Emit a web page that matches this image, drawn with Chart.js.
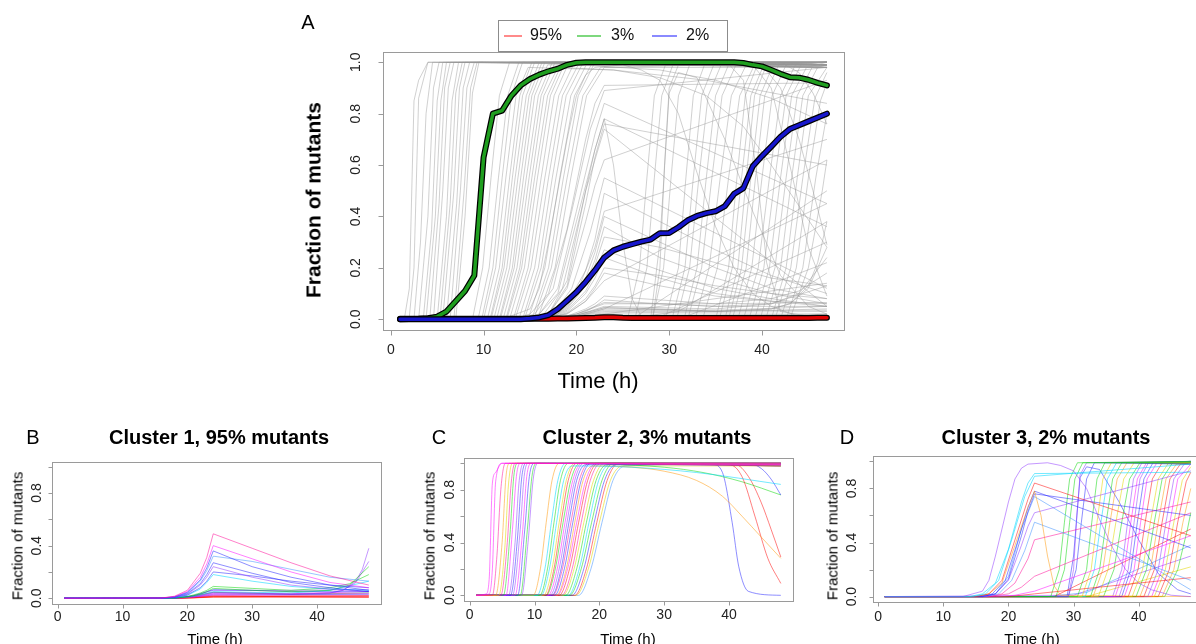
<!DOCTYPE html>
<html lang="en">
<head>
    <meta charset="UTF-8">
    <title>Fraction of mutants over time</title>
    <script src="https://cdn.jsdelivr.net/npm/chart.js@4.4.1/dist/chart.umd.min.js"></script>
    <style>
        html, body {
            margin: 0;
            padding: 0;
            width: 1196px;
            height: 644px;
            overflow: hidden;
            background: #fff;
            font-family: 'Liberation Sans', Arial, sans-serif;
        }
        canvas {
            position: absolute;
            left: 0;
            top: 0;
        }
        .t {
            position: absolute;
            transform: translate(-50%, -50%);
            line-height: 1;
            white-space: nowrap;
            color: #000;
            z-index: 5;
        }
        .v {
            transform: translate(-50%, -50%) rotate(-90deg);
        }
        .b { font-weight: bold; }
        #legendA {
            position: absolute;
            left: 498px;
            top: 20px;
            width: 228px;
            height: 30px;
            border: 1px solid #8c8c8c;
            background: #fff;
            z-index: 4;
        }
        .key {
            position: absolute;
            top: 35px;
            height: 1.5px;
            z-index: 5;
        }
        .keytext {
            position: absolute;
            top: 35px;
            transform: translateY(-50%);
            font-size: 16px;
            line-height: 1;
            color: #111;
            z-index: 5;
        }
    </style>
</head>
<body>
    <canvas id="chartA" width="1230" height="644" style="width:1230px;height:644px"></canvas>
    <canvas id="chartB" width="1230" height="644" style="width:1230px;height:644px"></canvas>
    <canvas id="chartC" width="1230" height="644" style="width:1230px;height:644px"></canvas>
    <canvas id="chartD" width="1230" height="644" style="width:1230px;height:644px"></canvas>

    <!-- panel A texts -->
    <div class="t" style="left:308px;top:22px;font-size:20px">A</div>
    <div id="legendA"></div>
    <div class="key" style="left:504px;width:18px;background:rgba(255,60,60,0.6)"></div>
    <div class="keytext" style="left:530px">95%</div>
    <div class="key" style="left:577px;width:24px;background:rgba(40,190,40,0.6)"></div>
    <div class="keytext" style="left:611px">3%</div>
    <div class="key" style="left:652px;width:25px;background:rgba(60,60,255,0.6)"></div>
    <div class="keytext" style="left:686px">2%</div>
    <div class="t v b" style="left:313px;top:200px;font-size:21px">Fraction of mutants</div>
    <div class="t" style="left:598px;top:381px;font-size:22px">Time (h)</div>

    <!-- panel B texts -->
    <div class="t" style="left:33px;top:437px;font-size:20px">B</div>
    <div class="t b" style="left:219px;top:437px;font-size:20px">Cluster 1, 95% mutants</div>
    <div class="t v" style="left:17px;top:536px;font-size:15px">Fraction of mutants</div>
    <div class="t" style="left:215px;top:638px;font-size:15px">Time (h)</div>

    <!-- panel C texts -->
    <div class="t" style="left:439px;top:437px;font-size:20px">C</div>
    <div class="t b" style="left:647px;top:437px;font-size:20px">Cluster 2, 3% mutants</div>
    <div class="t v" style="left:429px;top:536px;font-size:15px">Fraction of mutants</div>
    <div class="t" style="left:628px;top:638px;font-size:15px">Time (h)</div>

    <!-- panel D texts -->
    <div class="t" style="left:847px;top:437px;font-size:20px">D</div>
    <div class="t b" style="left:1046px;top:437px;font-size:20px">Cluster 3, 2% mutants</div>
    <div class="t v" style="left:832px;top:536px;font-size:15px">Fraction of mutants</div>
    <div class="t" style="left:1032px;top:638px;font-size:15px">Time (h)</div>

    <script>
        // ---- data ----
        const xTickValues = [0, 10, 20, 30, 40];
        const yTickValues = [0, 0.2, 0.4, 0.6, 0.8, 1];
        const ySparseLabels = [0, 0.4, 0.8];

        // panel A: cluster means, one value per hour
        const meanHours = [1,2,3,4,5,6,7,8,9,10,11,12,13,14,15,16,17,18,19,20,21,22,23,24,25,26,27,28,29,30,31,32,33,34,35,36,37,38,39,40,41,42,43,44,45,46,47];
        const mean95 = [0.002,0.002,0.002,0.002,0.002,0.002,0.002,0.002,0.002,0.002,0.002,0.002,0.002,0.002,0.002,0.002,0.002,0.003,0.003,0.004,0.005,0.006,0.008,0.008,0.006,
                        0.005,0.005,0.005,0.005,0.005,0.005,0.005,0.005,0.005,0.005,0.005,0.005,0.005,0.005,0.005,0.005,0.005,0.005,0.005,0.005,0.006,0.006];
        const mean3 = [0,0.001,0.002,0.004,0.01,0.03,0.07,0.11,0.17,0.63,0.8,0.812,0.87,0.91,0.935,0.952,0.965,0.975,0.99,0.998,1,
                       1,1,1,1,1,1,1,1,1,1,1,1,1,1,1,1,
                       0.997,0.99,0.984,0.97,0.955,0.942,0.94,0.932,0.92,0.91];
        const mean2 = [0,0,0,0,0,0,0,0,0,0,0,0,0,0,0.003,0.007,0.016,0.04,0.072,0.105,0.145,0.19,0.24,0.268,0.282,0.292,0.302,0.31,
                       0.335,0.336,0.358,0.385,0.402,0.413,0.42,0.44,0.488,0.51,0.595,0.635,0.672,0.71,0.74,0.755,0.77,0.785,0.8];

        // single runs, as [hour, fraction, hour, fraction, ...]
        const clusterOne = [
            [1,0, 16,0.002, 18,0.015, 20,0.06, 22,0.19, 23,0.31, 24,0.49, 30,0.38, 36,0.27, 42,0.17, 48,0.1],
            [1,0, 16,0.002, 18,0.012, 20,0.05, 22,0.16, 23,0.26, 24,0.4, 30,0.3, 36,0.2, 42,0.12, 48,0.08],
            [1,0, 16,0.002, 18,0.01, 20,0.045, 22,0.14, 23,0.23, 24,0.36, 30,0.24, 36,0.16, 42,0.1, 48,0.06],
            [1,0, 16,0.002, 18,0.01, 20,0.04, 22,0.13, 23,0.21, 24,0.32, 30,0.28, 36,0.22, 42,0.16, 48,0.13],
            [1,0, 16,0.001, 18,0.008, 20,0.035, 22,0.11, 23,0.18, 24,0.27, 30,0.19, 36,0.12, 42,0.08, 48,0.05],
            [1,0, 16,0.001, 18,0.007, 20,0.03, 22,0.1, 23,0.16, 24,0.24, 30,0.16, 36,0.1, 42,0.07, 48,0.05],
            [1,0, 16,0.001, 18,0.006, 20,0.025, 22,0.08, 23,0.13, 24,0.2, 30,0.17, 36,0.13, 42,0.1, 48,0.08],
            [1,0, 16,0.001, 18,0.005, 20,0.022, 22,0.07, 23,0.12, 24,0.18, 30,0.13, 36,0.09, 42,0.07, 48,0.06],
            [1,0, 18,0.002, 20,0.012, 22,0.04, 23,0.06, 24,0.09, 30,0.075, 36,0.06, 42,0.08, 45,0.11, 48,0.18],
            [1,0, 18,0.002, 20,0.01, 22,0.03, 23,0.05, 24,0.075, 30,0.06, 36,0.05, 42,0.06, 45,0.1, 48,0.24],
            [1,0, 18,0.001, 21,0.02, 24,0.065, 30,0.06, 36,0.05, 42,0.05, 48,0.05],
            [1,0, 18,0.001, 21,0.015, 24,0.045, 30,0.04, 36,0.03, 42,0.04, 44,0.06, 46,0.13, 47,0.22, 48,0.38],
            [1,0, 18,0.001, 21,0.01, 24,0.035, 36,0.03, 42,0.04, 44,0.06, 46,0.12, 48,0.28],
            [1,0, 18,0.001, 21,0.015, 24,0.05, 36,0.04, 42,0.06, 48,0.13],
            [1,0, 18,0.001, 21,0.02, 24,0.06, 36,0.06, 48,0.065],
            [1,0, 18,0, 21,0.01, 24,0.03, 48,0.035],
            [1,0, 18,0, 21,0.005, 24,0.015, 48,0.01],
            [1,0, 18,0, 21,0.006, 24,0.02, 48,0.02],
            [1,0, 18,0, 21,0.003, 24,0.008, 48,0.006],
            [1,0, 18,0, 21,0.008, 24,0.025, 48,0.03],
            [1,0, 18,0.001, 21,0.015, 24,0.045, 36,0.03, 48,0.04],
            [1,0, 18,0, 21,0.004, 24,0.012, 48,0.015],
            [1,0, 18,0.001, 21,0.012, 24,0.04, 36,0.035, 48,0.05],
            [1,0, 18,0, 21,0.003, 24,0.01, 48,0.02]
        ];
        const clusterOneColours = 'pmblbvbcggbvvcvmrprbgrmo';

        const clusterTwo = [
            [1,0, 2.5,0.01, 3,0.12, 3.5,0.85, 4,0.93, 5,1, 48,1],
            [1,0, 3,0.01, 3.5,0.2, 4,0.86, 5,1, 48,0.99],
            [1,0, 3.5,0, 4.2,0.3, 4.8,0.8, 5.5,1, 48,1],
            [1,0, 4,0, 5,0.4, 5.6,0.9, 6.2,1, 48,0.99],
            [1,0, 4.5,0, 5.4,0.35, 6,0.85, 6.6,1, 48,1],
            [1,0, 4.8,0, 5.8,0.4, 6.4,0.85, 7,1, 48,0.98],
            [1,0, 5.2,0, 6.2,0.45, 6.8,0.9, 7.4,1, 48,1],
            [1,0, 5.6,0, 6.6,0.5, 7.2,0.9, 7.8,1, 48,0.99],
            [1,0, 6,0, 7,0.4, 7.6,0.85, 8.3,1, 48,1],
            [1,0, 6.3,0, 7.4,0.45, 8,0.88, 8.7,1, 48,1],
            [1,0, 6.6,0, 7.8,0.5, 8.4,0.9, 9,1, 48,0.99],
            [1,0, 7,0, 8.1,0.45, 8.8,0.9, 9.5,1, 48,1],
            [1,0, 7.4,0, 8.5,0.5, 9.2,0.9, 10,1, 48,0.98],
            [1,0, 7.8,0, 8.9,0.5, 9.6,0.9, 10.3,1, 48,1],
            [1,0, 8,0, 9,0.4, 9.8,0.88, 10.5,1, 48,0.99],
            [1,0, 9.8,0, 10.9,0.2, 11.8,0.55, 12.7,0.87, 13.8,1, 48,1],
            [1,0, 10.4,0, 11.6,0.2, 12.6,0.55, 13.6,0.87, 14.8,1, 48,0.99],
            [1,0, 10.8,0, 12,0.2, 13,0.55, 14,0.87, 15.2,1, 48,1],
            [1,0, 11,0, 12.3,0.2, 13.4,0.55, 14.5,0.87, 15.8,0.98, 25,0.97, 35,0.93, 48,0.84],
            [1,0, 11.4,0, 12.7,0.2, 13.8,0.55, 14.9,0.87, 16.2,1, 48,0.98],
            [1,0, 11.7,0, 13,0.2, 14.1,0.55, 15.2,0.87, 16.5,1, 48,1],
            [1,0, 11.8,0, 13.2,0.2, 14.4,0.55, 15.6,0.87, 17,1, 48,1],
            [1,0, 12.1,0, 13.5,0.2, 14.7,0.55, 15.9,0.87, 17.3,1, 48,0.99],
            [1,0, 12.4,0, 13.8,0.2, 15,0.55, 16.2,0.87, 17.6,1, 48,1],
            [1,0, 12.7,0, 14.1,0.2, 15.3,0.55, 16.5,0.87, 17.9,0.99, 48,0.99],
            [1,0, 12.8,0, 14.3,0.2, 15.6,0.55, 16.9,0.87, 18.4,1, 48,1],
            [1,0, 13.1,0, 14.6,0.2, 15.9,0.55, 17.2,0.87, 18.7,1, 43,1, 45,0.96, 46.5,0.88, 48,0.76],
            [1,0, 13.4,0, 14.9,0.2, 16.2,0.55, 17.5,0.87, 19,0.98, 25,0.97, 30,0.94, 35,0.87, 39,0.75, 42,0.6, 45,0.44, 48,0.28],
            [1,0, 13.5,0, 15.1,0.2, 16.5,0.55, 17.9,0.87, 19.5,1, 48,1],
            [1,0, 13.8,0, 15.4,0.2, 16.8,0.55, 18.2,0.87, 19.8,1, 40,0.99, 42,0.9, 44,0.6, 46,0.28, 48,0.09],
            [1,0, 14.2,0, 15.8,0.2, 17.2,0.55, 18.6,0.87, 20.2,1, 48,0.99],
            [1,0, 14.4,0, 16.1,0.2, 17.6,0.55, 19.1,0.87, 20.8,1, 48,0.98],
            [1,0, 14.8,0, 16.5,0.2, 18,0.55, 19.5,0.87, 21.2,0.99, 30,0.97, 36,0.93, 42,0.86, 48,0.76],
            [1,0, 15.2,0, 16.9,0.2, 18.4,0.55, 19.9,0.87, 21.6,0.99, 48,0.99],
            [1,0, 15.4,0, 17.2,0.2, 18.8,0.55, 20.4,0.87, 22.2,1, 48,0.98],
            [1,0, 15.8,0, 17.6,0.2, 19.2,0.55, 20.8,0.87, 22.6,0.99, 37.5,0.99, 39,0.93, 40.5,0.55, 41.5,0.22, 43,0.03, 48,0],
            [1,0, 16.2,0, 18,0.2, 19.6,0.55, 21.2,0.87, 23,1, 41,0.99, 43,0.9, 45,0.7, 46.5,0.5, 48,0.29],
            [1,0, 16.4,0, 18.3,0.2, 20,0.55, 21.7,0.87, 23.6,0.98, 48,0.98],
            [1,0, 16.8,0, 18.7,0.2, 20.4,0.55, 22.1,0.87, 24,0.98, 48,1]
        ];
        const clusterTwoColours = 'mmpoypgmvbvmbgv' + 'ocgcyrgmvbpbomrpygcgbryl';

        const clusterThree = [
            [1,0, 13,0, 16,0.04, 17,0.12, 18,0.3, 19,0.5, 20,0.7, 21,0.87, 22,0.95, 23,0.98, 26,0.99, 28,0.97, 30,0.93, 32,0.8, 34,0.57, 36,0.36, 38,0.2, 40,0.1, 42,0.05, 45,0.01, 48,0],
            [1,0, 14,0, 16,0.02, 18,0.1, 20,0.35, 22,0.7, 23,0.84, 24,0.91, 48,0.92],
            [1,0, 14.5,0, 16.5,0.02, 18.5,0.12, 20.5,0.42, 22.5,0.74, 24,0.89, 48,0.98],
            [1,0, 15,0, 17,0.02, 19,0.12, 21,0.42, 23,0.72, 24,0.84, 48,0.45],
            [1,0, 15,0, 17,0.02, 19,0.1, 21,0.38, 23,0.66, 24,0.78, 25,0.6, 26,0.3, 27,0.08, 28,0.01, 48,0],
            [1,0, 15.5,0, 17.5,0.02, 19.5,0.12, 21.5,0.42, 23,0.66, 24,0.78, 48,0.36],
            [1,0, 16,0, 18,0.02, 20,0.13, 22,0.45, 23,0.63, 24,0.76, 48,0.6],
            [1,0, 16,0, 18,0.02, 20,0.12, 22,0.38, 23,0.52, 24,0.62, 48,0.93],
            [1,0, 16.5,0, 18.5,0.02, 20.5,0.12, 22.5,0.34, 24,0.55, 48,0.12],
            [1,0, 16,0, 18,0.02, 20,0.15, 22,0.5, 24,0.74, 48,0.05],
            [1,0, 17,0, 20,0.02, 22,0.07, 24,0.15, 48,0.62],
            [1,0, 17,0, 19,0.02, 21,0.1, 23,0.28, 24,0.42, 48,0.7],
            [1,0, 18,0, 21,0.01, 24,0.04, 48,0.45],
            [1,0, 20,0, 24,0.02, 48,0.14],
            [1,0, 26.5,0, 27.8,0.2, 28.6,0.55, 29.4,0.87, 30.6,0.99, 48,1],
            [1,0, 27.3,0, 28.6,0.2, 29.4,0.55, 30.2,0.87, 31.4,0.99, 48,0.99],
            [1,0, 29.2,0, 30,0.2, 30.5,0.6, 31,0.9, 32,0.99, 48,1],
            [1,0, 29.2,0, 30.4,0.2, 31.2,0.55, 32,0.87, 33.2,0.99, 48,0.98],
            [1,0, 30.6,0, 32,0.2, 32.8,0.55, 33.6,0.87, 34.8,0.99, 48,1],
            [1,0, 31.3,0, 32.7,0.2, 33.6,0.55, 34.5,0.87, 35.8,0.99, 48,0.99],
            [1,0, 31.8,0, 33.2,0.2, 34.2,0.55, 35.2,0.87, 36.6,0.99, 48,1],
            [1,0, 32.6,0, 34,0.2, 35,0.55, 36,0.87, 37.4,0.99, 48,0.98],
            [1,0, 33,0, 34.5,0.2, 35.6,0.55, 36.7,0.87, 38.2,0.99, 48,1],
            [1,0, 33.8,0, 35.3,0.2, 36.5,0.55, 37.7,0.87, 39.3,0.99, 48,0.99],
            [1,0, 34.6,0, 36.2,0.2, 37.4,0.55, 38.6,0.87, 40.2,0.99, 48,1],
            [1,0, 36,0, 37.4,0.2, 38.3,0.55, 39.2,0.87, 40.5,0.99, 48,1],
            [1,0, 36.4,0, 37.8,0.2, 38.8,0.55, 39.8,0.87, 41.2,0.99, 48,0.98],
            [1,0, 37,0, 38.4,0.2, 39.3,0.55, 40.2,0.87, 41.5,0.99, 48,1],
            [1,0, 37.4,0, 38.8,0.2, 39.8,0.55, 40.8,0.87, 42.2,0.99, 48,0.99],
            [1,0, 37.8,0, 39.3,0.2, 40.3,0.55, 41.3,0.87, 42.8,0.99, 48,1],
            [1,0, 38.4,0, 39.9,0.2, 41,0.55, 42.1,0.87, 43.6,0.99, 48,0.99],
            [1,0, 39,0, 40.6,0.2, 41.8,0.55, 43,0.87, 44.6,0.99, 48,1],
            [1,0, 39.6,0, 41.2,0.2, 42.4,0.55, 43.6,0.87, 45.2,0.99, 48,0.99],
            [1,0, 40.2,0, 41.8,0.2, 43,0.55, 44.2,0.87, 45.8,0.98, 48,1],
            [1,0, 40.8,0, 42.4,0.2, 43.6,0.55, 44.8,0.87, 46.4,0.98, 48,0.99],
            [1,0, 41.4,0, 43,0.2, 44.2,0.55, 45.4,0.87, 47,0.98, 48,0.99],
            [1,0, 42,0, 43.6,0.2, 44.8,0.55, 46,0.87, 48,0.98],
            [1,0, 42.4,0, 44.1,0.2, 45.4,0.55, 46.7,0.86, 48,0.96],
            [1,0, 43,0, 44.7,0.2, 46,0.55, 47.3,0.85, 48,0.92],
            [1,0, 43.6,0, 45.4,0.2, 46.8,0.55, 48,0.8],
            [1,0, 44,0, 46,0.2, 47.5,0.5, 48,0.62],
            [1,0, 27,0, 48,0.5],
            [1,0, 30,0.01, 48,0.3],
            [1,0, 29,0, 30,0.3, 31,0.88, 32,0.96, 34,0.94, 37,0.7, 40,0.42, 43,0.17, 46,0.05, 48,0.02],
            [1,0, 26,0, 32,0.03, 48,0.38],
            [1,0, 32,0, 48,0.22]
        ];
        const clusterThreeColours = 'vccrobbvllppmrggvbgycgoygvmvbmrygorvmyrogrvbly';

        // ---- styling ----
        const palette = {
            r: 'rgba(255,0,0,0.5)',
            o: 'rgba(255,150,0,0.5)',
            y: 'rgba(225,215,0,0.55)',
            g: 'rgba(0,215,0,0.5)',
            c: 'rgba(0,215,255,0.55)',
            l: 'rgba(70,150,255,0.55)',
            b: 'rgba(30,30,255,0.5)',
            v: 'rgba(140,50,255,0.5)',
            m: 'rgba(255,0,255,0.5)',
            p: 'rgba(255,0,150,0.5)'
        };
        const greyRun = 'rgba(150,150,150,0.45)';
        const W = 1230, H = 644;

        // panel A counts hours from 0, the cluster panels from 1
        function pairs(flat, shift) {
            const pts = [];
            for (let i = 0; i < flat.length; i += 2) {
                pts.push({ x: Math.max(1, flat[i] - shift), y: flat[i + 1] });
            }
            return pts;
        }

        function runSets(curves, colours, shift, grey, mode) {
            return curves.map((c, i) => ({
                data: pairs(c, shift),
                borderColor: grey || palette[colours[i]],
                borderWidth: 1,
                pointRadius: 0,
                tension: 0,
                cubicInterpolationMode: mode,
                order: 10
            }));
        }

        function meanSets(values, colour, order) {
            const pts = meanHours.map((h, i) => ({ x: h, y: values[i] }));
            const common = { pointRadius: 0, tension: 0, borderJoinStyle: 'round', borderCapStyle: 'round' };
            return [
                Object.assign({ data: pts, borderColor: '#000', borderWidth: 6, order: order + 1 }, common),
                Object.assign({ data: pts, borderColor: colour, borderWidth: 3.5, order: order }, common)
            ];
        }

        // R-like box, ticks and labels
        function rAxes(cfg) {
            return {
                id: 'rAxes',
                afterDatasetsDraw(chart) {
                    const { ctx, chartArea: a, scales: { x, y } } = chart;
                    const L = Math.round(a.left) + 0.5, R = Math.round(a.right) + 0.5;
                    const T = Math.round(a.top) + 0.5, B = Math.round(a.bottom) + 0.5;
                    ctx.save();
                    ctx.strokeStyle = cfg.lineColour;
                    ctx.lineWidth = 1;
                    ctx.strokeRect(L, T, R - L, B - T);
                    ctx.beginPath();
                    xTickValues.forEach(v => {
                        const px = Math.round(x.getPixelForValue(v)) + 0.5;
                        ctx.moveTo(px, B);
                        ctx.lineTo(px, B + cfg.tick);
                    });
                    yTickValues.forEach(v => {
                        const py = Math.round(y.getPixelForValue(v)) + 0.5;
                        ctx.moveTo(L, py);
                        ctx.lineTo(L - cfg.tick, py);
                    });
                    ctx.stroke();
                    ctx.fillStyle = '#222';
                    ctx.font = cfg.font;
                    ctx.textAlign = 'center';
                    ctx.textBaseline = 'middle';
                    xTickValues.forEach(v => ctx.fillText(String(v), x.getPixelForValue(v), a.bottom + cfg.xGap));
                    cfg.yLabels.forEach(v => {
                        ctx.save();
                        ctx.translate(a.left - cfg.yGap, y.getPixelForValue(v));
                        ctx.rotate(-Math.PI / 2);
                        ctx.fillText(v.toFixed(1), 0, 0);
                        ctx.restore();
                    });
                    ctx.restore();
                }
            };
        }

        function makePanel(id, box, datasets, axes) {
            return new Chart(document.getElementById(id), {
                type: 'line',
                data: { datasets: datasets },
                options: {
                    responsive: false,
                    animation: false,
                    devicePixelRatio: 1,
                    events: [],
                    layout: { padding: { left: box.left, right: W - box.right, top: box.top, bottom: H - box.bottom } },
                    scales: {
                        x: { type: 'linear', min: box.xMin, max: box.xMax, display: false },
                        y: { type: 'linear', min: -0.04, max: 1.04, display: false }
                    },
                    plugins: { legend: { display: false }, tooltip: { enabled: false } }
                },
                plugins: [rAxes(axes)]
            });
        }

        // panel A: every run in grey plus the three means
        const greyRuns = [].concat(
            runSets(clusterOne, null, 1, greyRun, 'default'),
            runSets(clusterTwo, null, 1, greyRun, 'default'),
            runSets(clusterThree, null, 1, greyRun, 'default')
        );
        makePanel('chartA',
            { left: 383, right: 844, top: 52, bottom: 329.5, xMin: -0.84, xMax: 48.84 },
            greyRuns.concat(meanSets(mean95, '#e00000', 6), meanSets(mean3, '#1f9e1f', 4), meanSets(mean2, '#1616cc', 2)),
            { lineColour: '#9a9a9a', tick: 5, font: '14px "Liberation Sans", Arial, sans-serif', xGap: 20.5, yGap: 27, yLabels: yTickValues });

        makePanel('chartB',
            { left: 52, right: 381, top: 461.5, bottom: 603.5, xMin: -0.88, xMax: 49.88 },
            runSets(clusterOne, clusterOneColours, 0, null, 'default'),
            { lineColour: '#9a9a9a', tick: 4, font: '14px "Liberation Sans", Arial, sans-serif', xGap: 14, yGap: 15, yLabels: ySparseLabels });

        makePanel('chartC',
            { left: 464, right: 793, top: 458, bottom: 600.6, xMin: -0.88, xMax: 49.88 },
            runSets(clusterTwo, clusterTwoColours, 0, null, 'monotone'),
            { lineColour: '#9a9a9a', tick: 4, font: '14px "Liberation Sans", Arial, sans-serif', xGap: 15, yGap: 14, yLabels: ySparseLabels });

        makePanel('chartD',
            { left: 872.5, right: 1203, top: 456, bottom: 602, xMin: -0.88, xMax: 49.88 },
            runSets(clusterThree, clusterThreeColours, 0, null, 'default'),
            { lineColour: '#9a9a9a', tick: 4, font: '14px "Liberation Sans", Arial, sans-serif', xGap: 15.5, yGap: 20, yLabels: ySparseLabels });
    </script>
</body>
</html>
